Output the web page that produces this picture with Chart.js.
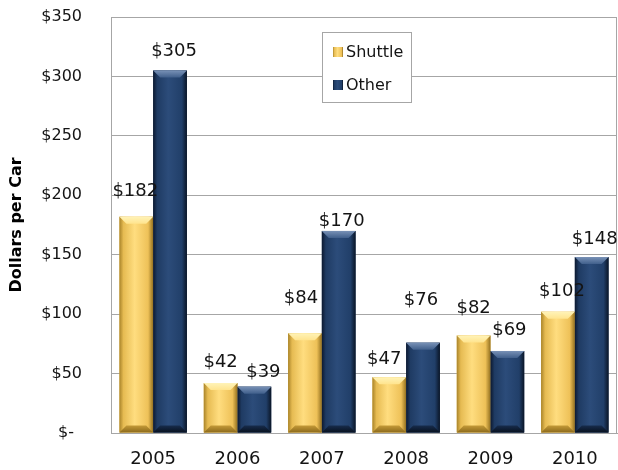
<!DOCTYPE html>
<html>
<head>
<meta charset="utf-8">
<script src="https://cdn.jsdelivr.net/npm/chart.js@4/dist/chart.umd.min.js"></script>
<style>
  html, body { margin: 0; padding: 0; background: #ffffff; }
  #wrap { width: 618px; height: 470px; }
</style>
</head>
<body>
<div id="wrap"><canvas id="chart" width="618" height="470"></canvas></div>
<script>
// Annual cost per car, by service type
const years = ['2005', '2006', '2007', '2008', '2009', '2010'];
const shuttleCost = [182, 42, 84, 47, 82, 102];
const otherCost = [305, 39, 170, 76, 69, 148];
const yTicks = [0, 50, 100, 150, 200, 250, 300, 350];

// Value-label nudges: [horizontal shift, lift above bar top] in px
const shuttleLabelNudge = [[-1, 27], [0, 23], [-4, 37], [-5, 20], [0, 29], [4, 22]];
const otherLabelNudge = [[4, 21], [9, 16], [3, 11], [-2, 44], [2, 22], [3, 20]];

const FONT = "'DejaVu Sans', 'Liberation Sans', sans-serif";

const palettes = [
  { // Shuttle: gold cylinder
    body: [[0, '#a9842a'], [0.12, '#e6bb52'], [0.45, '#ffdd7f'], [0.85, '#eec158'], [1, '#93701f']],
    top: ['#fff3b8', '#ffe48e'],
    bottom: ['#c49a38', '#8c6a1c']
  },
  { // Other: navy cylinder
    body: [[0, '#0c1930'], [0.12, '#1f3b63'], [0.45, '#2c4c7a'], [0.85, '#213f69'], [1, '#0a1526']],
    top: ['#7891b6', '#405f8b'],
    bottom: ['#172c4c', '#08111f']
  }
];

// Paints the shaded, bevelled face of every bar over the library's bar geometry
const bevelBars = {
  id: 'bevelBars',
  afterDatasetsDraw(chart) {
    const ctx = chart.ctx;
    chart.data.datasets.forEach((ds, di) => {
      const meta = chart.getDatasetMeta(di);
      const pal = palettes[di];
      meta.data.forEach(bar => {
        const p = bar.getProps(['x', 'y', 'base', 'width'], true);
        const x0 = p.x - p.width / 2, x1 = p.x + p.width / 2;
        const top = p.y, bot = p.base;
        const b = Math.min(7, (bot - top) / 3);
        ctx.save();
        const g = ctx.createLinearGradient(x0, 0, x1, 0);
        pal.body.forEach(s => g.addColorStop(s[0], s[1]));
        ctx.fillStyle = g;
        ctx.fillRect(x0, top, x1 - x0, bot - top);
        // top bevel
        const gt = ctx.createLinearGradient(0, top, 0, top + b);
        gt.addColorStop(0, pal.top[0]);
        gt.addColorStop(1, pal.top[1]);
        ctx.fillStyle = gt;
        ctx.beginPath();
        ctx.moveTo(x0, top); ctx.lineTo(x1, top);
        ctx.lineTo(x1 - b, top + b); ctx.lineTo(x0 + b, top + b);
        ctx.closePath(); ctx.fill();
        // bottom bevel
        const gb = ctx.createLinearGradient(0, bot - b, 0, bot);
        gb.addColorStop(0, pal.bottom[0]);
        gb.addColorStop(1, pal.bottom[1]);
        ctx.fillStyle = gb;
        ctx.beginPath();
        ctx.moveTo(x0 + b, bot - b); ctx.lineTo(x1 - b, bot - b);
        ctx.lineTo(x1, bot); ctx.lineTo(x0, bot);
        ctx.closePath(); ctx.fill();
        ctx.restore();
      });
    });
  }
};

// Dollar value above each bar
const valueLabels = {
  id: 'valueLabels',
  afterDatasetsDraw(chart) {
    const ctx = chart.ctx;
    const nudges = [shuttleLabelNudge, otherLabelNudge];
    ctx.save();
    ctx.font = '18px ' + FONT;
    ctx.fillStyle = '#141414';
    ctx.textAlign = 'center';
    ctx.textBaseline = 'alphabetic';
    chart.data.datasets.forEach((ds, di) => {
      chart.getDatasetMeta(di).data.forEach((bar, i) => {
        const n = nudges[di][i];
        ctx.fillText('$' + ds.data[i], bar.x + n[0], bar.y - n[1] + 6.5);
      });
    });
    ctx.restore();
  }
};

// Frame around the plot area
const plotFrame = {
  id: 'plotFrame',
  beforeDatasetsDraw(chart) {
    const a = chart.chartArea, ctx = chart.ctx;
    ctx.save();
    ctx.strokeStyle = '#a6a6a6';
    ctx.lineWidth = 1;
    ctx.strokeRect(Math.round(a.left) + 0.5, Math.round(a.top) + 0.5,
      Math.round(a.right - a.left) - 1, Math.round(a.bottom - a.top));
    ctx.restore();
  }
};

// Boxed legend inside the plot
const boxLegend = {
  id: 'boxLegend',
  afterDraw(chart) {
    const ctx = chart.ctx;
    const bx = 322, by = 32, bw = 90, bh = 71;
    ctx.save();
    ctx.fillStyle = '#ffffff';
    ctx.fillRect(bx, by, bw, bh);
    ctx.strokeStyle = '#a6a6a6';
    ctx.lineWidth = 1;
    ctx.strokeRect(bx + 0.5, by + 0.5, bw - 1, bh - 1);
    ctx.font = '16px ' + FONT;
    ctx.textBaseline = 'middle';
    ctx.textAlign = 'left';
    chart.data.datasets.forEach((ds, di) => {
      const cy = by + 20 + di * 33;
      const pal = palettes[di];
      const g = ctx.createLinearGradient(333, 0, 343, 0);
      pal.body.forEach(s => g.addColorStop(s[0], s[1]));
      ctx.fillStyle = g;
      ctx.fillRect(333, cy - 5, 10, 10);
      ctx.fillStyle = '#141414';
      ctx.fillText(ds.label, 346, cy + 1);
    });
    ctx.restore();
  }
};

new Chart(document.getElementById('chart'), {
  type: 'bar',
  data: {
    labels: years,
    datasets: [
      { label: 'Shuttle', data: shuttleCost, backgroundColor: '#f0c45a', borderWidth: 0 },
      { label: 'Other', data: otherCost, backgroundColor: '#1f3b63', borderWidth: 0 }
    ]
  },
  plugins: [plotFrame, bevelBars, valueLabels, boxLegend],
  options: {
    responsive: false,
    animation: false,
    layout: { padding: { top: 17, right: 1, left: 0, bottom: 0 } },
    datasets: { bar: { categoryPercentage: 0.8, barPercentage: 1.0 } },
    plugins: {
      legend: { display: false },
      tooltip: { enabled: false }
    },
    scales: {
      x: {
        grid: { display: false, drawTicks: false },
        border: { display: true, color: '#a6a6a6' },
        ticks: { color: '#141414', padding: 16, font: { family: FONT, size: 18 } },
        afterFit(s) { s.height = 37; }
      },
      y: {
        min: 0,
        max: 350,
        afterBuildTicks(s) { s.ticks = yTicks.map(v => ({ value: v })); },
        grid: { color: '#a6a6a6', drawTicks: true, tickLength: 29, tickColor: 'rgba(0,0,0,0)' },
        border: { display: true, color: '#a6a6a6' },
        ticks: {
          color: '#141414',
          padding: 0,
          font: { family: FONT, size: 16 },
          callback: v => (v === 0 ? '$-\u2002' : '$' + v)
        },
        title: {
          display: true,
          text: 'Dollars per Car',
          color: '#000000',
          padding: { top: 7, bottom: 0 },
          font: { family: FONT, size: 16, weight: 'bold' }
        },
        afterFit(s) { s.width = 111; }
      }
    }
  }
});
</script>
</body>
</html>
